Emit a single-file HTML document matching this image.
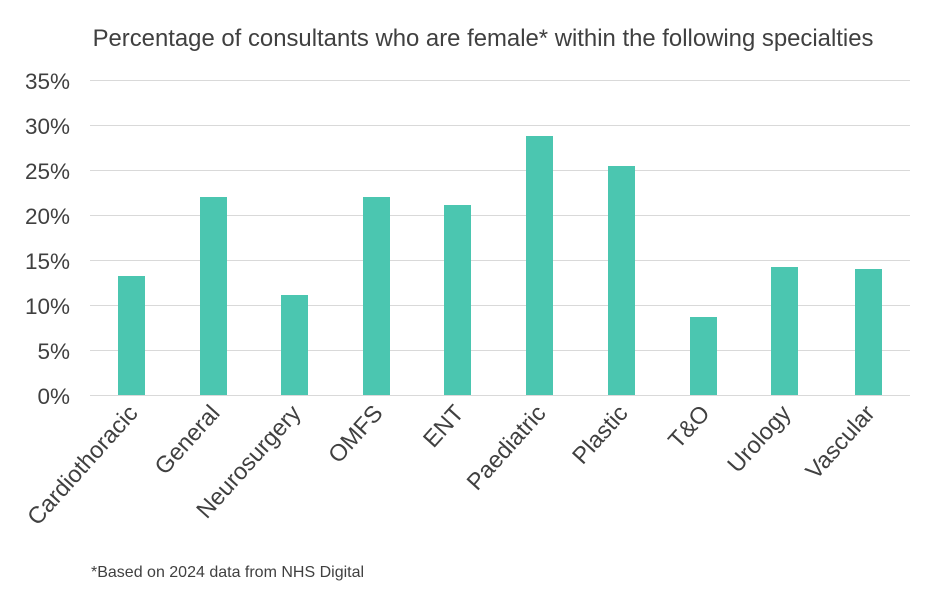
<!DOCTYPE html>
<html><head><meta charset="utf-8"><style>
body{margin:0;background:#fff;}
svg{display:block;font-family:"Liberation Sans",Arial,sans-serif;}
</style></head><body>
<svg width="928" height="600" xmlns="http://www.w3.org/2000/svg">
<rect width="928" height="600" fill="#fff"/>
<text x="483" y="46" font-size="23.9" fill="#404040" text-anchor="middle">Percentage of consultants who are female* within the following specialties</text>
<g stroke="#d9d9d9" stroke-width="1">
<line x1="90" x2="910" y1="80.5" y2="80.5"/>
<line x1="90" x2="910" y1="125.5" y2="125.5"/>
<line x1="90" x2="910" y1="170.5" y2="170.5"/>
<line x1="90" x2="910" y1="215.5" y2="215.5"/>
<line x1="90" x2="910" y1="260.5" y2="260.5"/>
<line x1="90" x2="910" y1="305.5" y2="305.5"/>
<line x1="90" x2="910" y1="350.5" y2="350.5"/>
<line x1="90" x2="910" y1="395.5" y2="395.5"/>
</g>
<g font-size="22.5" fill="#404040" text-anchor="end">
<text x="70" y="89">35%</text>
<text x="70" y="134">30%</text>
<text x="70" y="179">25%</text>
<text x="70" y="224">20%</text>
<text x="70" y="269">15%</text>
<text x="70" y="314">10%</text>
<text x="70" y="359">5%</text>
<text x="70" y="404">0%</text>
</g>
<g fill="#4bc6b0">
<rect x="118" y="276" width="27" height="119"/>
<rect x="200" y="197" width="27" height="198"/>
<rect x="281" y="295" width="27" height="100"/>
<rect x="363" y="197" width="27" height="198"/>
<rect x="444" y="205" width="27" height="190"/>
<rect x="526" y="136" width="27" height="259"/>
<rect x="608" y="166" width="27" height="229"/>
<rect x="690" y="317" width="27" height="78"/>
<rect x="771" y="267" width="27" height="128"/>
<rect x="855" y="269" width="27" height="126"/>
</g>
<g font-size="23.5" fill="#404040" text-anchor="end">
<text transform="translate(139,414) rotate(-48)">Cardiothoracic</text>
<text transform="translate(221,414) rotate(-48)">General</text>
<text transform="translate(302,414) rotate(-48)">Neurosurgery</text>
<text transform="translate(384,414) rotate(-48)">OMFS</text>
<text transform="translate(465,414) rotate(-48)">ENT</text>
<text transform="translate(547,414) rotate(-48)">Paediatric</text>
<text transform="translate(629,414) rotate(-48)">Plastic</text>
<text transform="translate(711,414) rotate(-48)">T&amp;O</text>
<text transform="translate(792,414) rotate(-48)">Urology</text>
<text transform="translate(876,414) rotate(-48)">Vascular</text>
</g>
<text x="91" y="577" font-size="16" fill="#404040">*Based on 2024 data from NHS Digital</text>
</svg>
</body></html>
